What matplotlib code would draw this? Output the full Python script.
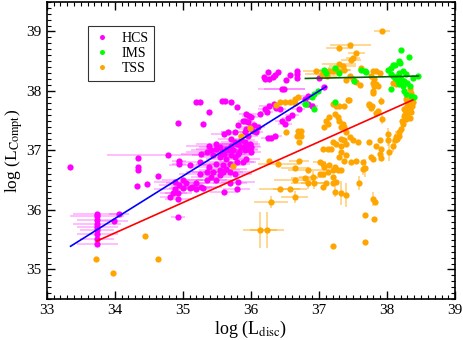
import matplotlib
matplotlib.use('Agg')
import matplotlib.pyplot as plt
import numpy as np

plt.rcParams['font.family'] = ['Liberation Serif', 'DejaVu Serif']
plt.rcParams['mathtext.fontset'] = 'stix'

# HCS: x, y, xerr
hcs = np.array([
    (33.74, 35.93, 0.35), (33.74, 35.90, 0.40), (33.74, 35.83, 0.30), (33.74, 35.77, 0.35),
    (33.74, 35.72, 0.30), (33.74, 35.66, 0.25), (33.74, 35.60, 0.30), (33.74, 35.52, 0.25),
    (33.74, 35.43, 0.30), (34.06, 35.93, 0.15), (33.99, 35.81, 0.20), (34.93, 35.88, 0.10),
    (33.34, 36.73, 0.00),
    (34.78, 36.92, 0.90), (34.34, 36.88, 0.00), (34.34, 36.72, 0.00), (34.34, 36.67, 0.00),
    (34.93, 37.46, 0.00), (34.94, 36.83, 0.10), (34.94, 36.78, 0.10), (34.64, 36.57, 0.00),
    (34.33, 36.41, 0.00), (34.47, 36.43, 0.00), (34.88, 36.36, 0.30), (34.93, 36.28, 0.20),
    (34.81, 36.21, 0.15), (34.93, 36.18, 0.20), (34.86, 36.28, 0.20), (34.88, 36.47, 0.30),
    (34.95, 36.42, 0.30),
    (35.20, 37.81, 0.00), (35.25, 37.81, 0.00), (35.57, 37.83, 0.00), (35.62, 37.83, 0.00),
    (35.70, 37.82, 0.00), (35.79, 37.73, 0.00), (35.38, 37.65, 0.00), (35.30, 37.45, 0.00),
    (36.25, 38.32, 0.00), (36.40, 38.32, 0.00), (36.36, 38.27, 0.00), (36.32, 38.23, 0.00),
    (36.27, 38.20, 0.00), (36.21, 38.20, 0.00), (36.19, 38.23, 0.00), (36.57, 38.27, 0.00),
    (36.52, 38.18, 0.00), (36.67, 38.33, 0.00), (36.68, 38.29, 0.00), (36.68, 38.21, 0.00),
    (36.45, 38.04, 0.35), (36.49, 38.04, 0.30),
    (35.93, 37.61, 0.10), (35.97, 37.58, 0.10), (36.00, 37.57, 0.10), (36.13, 37.61, 0.10),
    (36.20, 37.70, 0.10), (36.27, 37.74, 0.15), (36.34, 37.78, 0.10), (36.37, 37.72, 0.10),
    (36.42, 37.70, 0.10), (36.23, 37.64, 0.10), (35.88, 37.50, 0.00), (35.81, 37.42, 0.00),
    (35.93, 37.36, 0.10), (36.00, 37.39, 0.15), (36.05, 37.42, 0.10), (36.10, 37.39, 0.10),
    (36.03, 37.33, 0.10), (36.08, 37.31, 0.10), (35.91, 37.50, 0.10), (35.96, 37.47, 0.10),
    (35.61, 37.28, 0.20), (35.76, 37.31, 0.20), (35.91, 37.31, 0.15), (35.96, 37.25, 0.15),
    (35.66, 37.31, 0.10), (36.25, 37.21, 0.10), (36.30, 37.21, 0.10), (36.35, 37.24, 0.10),
    (36.55, 37.55, 0.10), (36.60, 37.60, 0.10), (36.70, 37.70, 0.10), (36.79, 37.86, 0.10),
    (36.84, 37.92, 0.10), (36.84, 37.78, 0.10), (36.89, 37.75, 0.10), (37.00, 38.21, 0.05),
    (37.08, 38.06, 0.05), (36.50, 37.45, 0.10), (36.45, 37.50, 0.10),
    (35.71, 37.20, 0.20), (35.76, 37.14, 0.20), (35.81, 37.11, 0.30), (35.86, 37.17, 0.20),
    (35.91, 37.14, 0.20), (35.93, 37.08, 0.20), (35.98, 37.11, 0.15), (36.00, 37.06, 0.15),
    (35.86, 37.06, 0.20), (35.91, 37.00, 0.20), (35.96, 37.03, 0.15), (36.00, 36.97, 0.15),
    (35.42, 37.00, 0.30), (35.49, 37.03, 0.30), (35.57, 36.97, 0.30), (35.61, 36.94, 0.30),
    (35.66, 37.00, 0.25), (35.71, 36.92, 0.30), (35.76, 36.89, 0.20), (35.81, 36.94, 0.20),
    (35.39, 37.08, 0.35), (35.49, 37.11, 0.30), (35.54, 37.06, 0.30), (35.64, 37.03, 0.30),
    (35.71, 37.08, 0.25), (35.79, 37.11, 0.25),
    (35.10, 36.75, 0.30), (35.25, 36.81, 0.35), (35.35, 36.97, 0.30), (35.27, 36.94, 0.30),
    (35.44, 36.92, 0.30), (35.54, 36.89, 0.30), (35.64, 36.86, 0.30), (35.49, 36.78, 0.30),
    (35.39, 36.72, 0.30), (35.59, 36.75, 0.30), (35.69, 36.78, 0.30), (35.79, 36.81, 0.25),
    (35.88, 36.81, 0.20), (35.93, 36.86, 0.20), (35.83, 36.97, 0.20), (35.74, 37.00, 0.25),
    (35.59, 36.97, 0.30),
    (35.00, 36.50, 0.30), (35.05, 36.45, 0.30), (35.13, 36.39, 0.30), (35.20, 36.45, 0.30),
    (35.27, 36.39, 0.30), (35.35, 36.50, 0.30), (35.42, 36.56, 0.30), (35.49, 36.50, 0.30),
    (35.54, 36.58, 0.30), (35.59, 36.64, 0.30), (35.69, 36.64, 0.30), (35.76, 36.61, 0.25),
    (35.81, 36.47, 0.25), (35.79, 36.36, 0.20), (35.69, 36.45, 0.25), (35.25, 36.61, 0.30),
    (35.35, 36.64, 0.30), (35.44, 36.64, 0.30), (35.54, 36.67, 0.30), (35.64, 36.69, 0.30),
    (35.00, 36.37, 0.20), (35.10, 36.37, 0.20), (35.20, 36.35, 0.20), (35.30, 36.37, 0.20),
    (35.60, 36.30, 0.20),
])

# IMS: x, y, xerr
ims = np.array([
    (38.21, 38.68, 0.00), (38.32, 38.57, 0.00), (38.17, 38.50, 0.00), (38.19, 38.47, 0.00),
    (38.08, 38.43, 0.00), (38.11, 38.44, 0.00), (38.06, 38.39, 0.00), (38.01, 38.36, 0.00),
    (37.67, 38.33, 0.05), (37.69, 38.32, 0.00), (37.62, 38.35, 0.05), (38.06, 38.28, 0.00),
    (38.08, 38.25, 0.00), (38.11, 38.22, 0.00), (38.16, 38.25, 0.00), (38.18, 38.31, 0.00),
    (38.23, 38.33, 0.00), (38.28, 38.28, 0.00), (38.20, 38.20, 0.00), (38.25, 38.17, 0.00),
    (38.30, 38.14, 0.00), (38.16, 38.17, 0.00), (38.18, 38.11, 0.00), (38.23, 38.08, 0.00),
    (38.38, 38.22, 0.00), (38.45, 38.25, 0.00), (38.06, 38.03, 0.00), (38.25, 38.00, 0.00),
    (38.28, 37.95, 0.00), (38.35, 37.92, 0.00), (38.40, 37.89, 0.00), (38.33, 38.08, 0.00),
    (37.23, 38.38, 0.10), (37.52, 38.17, 0.00), (37.23, 37.82, 0.00), (36.79, 37.78, 0.00),
    (36.93, 37.70, 0.00), (36.81, 37.78, 0.00), (36.89, 37.89, 0.00), (36.93, 37.95, 0.00),
    (36.98, 38.00, 0.00), (37.08, 38.36, 0.10), (37.10, 38.30, 0.00), (37.30, 38.30, 0.00),
])

# TSS: x, y, xerr, yerr
tss = np.array([
    (37.93, 39.00, 0.12, 0.00), (37.46, 38.78, 0.30, 0.00), (37.30, 38.72, 0.20, 0.00),
    (37.55, 38.64, 0.12, 0.00), (37.50, 38.56, 0.10, 0.00), (37.47, 38.52, 0.15, 0.00),
    (37.30, 38.45, 0.25, 0.00), (37.35, 38.42, 0.20, 0.00), (37.25, 38.36, 0.20, 0.00),
    (37.20, 38.33, 0.20, 0.00), (37.15, 38.33, 0.20, 0.00), (37.28, 38.33, 0.15, 0.00),
    (37.37, 38.36, 0.10, 0.00), (36.96, 38.33, 0.20, 0.00), (37.05, 38.28, 0.25, 0.00),
    (37.12, 38.25, 0.15, 0.00),
    (37.62, 38.39, 0, 0), (37.79, 38.33, 0, 0), (37.84, 38.33, 0, 0), (37.89, 38.31, 0, 0),
    (37.77, 38.25, 0, 0), (37.81, 38.20, 0, 0), (37.79, 38.14, 0, 0), (37.81, 38.08, 0, 0),
    (37.79, 38.00, 0, 0), (38.08, 38.14, 0, 0), (38.13, 38.11, 0, 0), (38.33, 38.03, 0, 0),
    (38.35, 37.97, 0, 0), (37.84, 38.11, 0, 0), (37.86, 38.08, 0, 0), (37.79, 37.97, 0, 0),
    (37.50, 38.20, 0, 0), (37.55, 38.15, 0, 0), (37.45, 38.25, 0, 0), (37.60, 38.10, 0, 0),
    (37.40, 38.18, 0, 0),
    (37.74, 37.78, 0, 0), (37.77, 37.72, 0, 0), (37.91, 37.83, 0, 0.06), (37.44, 37.85, 0, 0),
    (37.20, 37.78, 0, 0), (37.25, 37.75, 0, 0), (37.30, 37.75, 0, 0), (37.37, 37.75, 0, 0),
    (36.50, 37.82, 0, 0), (36.57, 37.81, 0, 0), (36.64, 37.79, 0, 0), (36.37, 37.76, 0, 0),
    (36.42, 37.81, 0, 0), (36.64, 37.86, 0, 0), (36.69, 37.89, 0, 0),
    (35.85, 37.25, 0, 0), (35.98, 37.37, 0, 0), (35.74, 36.74, 0, 0), (36.52, 37.31, 0, 0),
    (36.69, 37.33, 0, 0), (36.74, 37.33, 0, 0), (36.67, 37.25, 0, 0), (36.74, 37.25, 0, 0),
    (36.71, 37.14, 0, 0),
    (36.40, 36.78, 0.30, 0.00), (36.27, 36.83, 0.00, 0.00), (36.64, 36.70, 0.20, 0.00),
    (36.71, 36.83, 0.15, 0.00), (36.84, 36.67, 0.30, 0.05), (36.91, 36.56, 0.20, 0.10),
    (36.84, 36.45, 0.25, 0.10), (36.93, 36.45, 0.20, 0.10), (36.64, 36.50, 0.30, 0.00),
    (36.79, 36.53, 0.20, 0.00), (36.42, 36.36, 0.30, 0.00), (36.57, 36.36, 0.25, 0.00),
    (36.64, 36.22, 0.20, 0.10), (36.30, 36.14, 0.25, 0.10),
    (36.13, 35.66, 0.25, 0.30), (36.23, 35.66, 0.25, 0.30),
    (33.72, 35.18, 0, 0), (33.98, 34.94, 0, 0), (34.44, 35.57, 0, 0), (34.64, 35.18, 0, 0),
    (37.21, 35.40, 0, 0), (37.68, 35.46, 0, 0), (37.68, 35.91, 0, 0), (37.81, 35.85, 0, 0),
    (37.82, 36.13, 0, 0), (37.79, 36.18, 0, 0.12),
    (37.42, 37.85, 0, 0), (37.74, 37.76, 0, 0), (37.78, 37.74, 0, 0), (37.86, 37.67, 0, 0),
    (37.84, 37.63, 0, 0), (37.93, 37.53, 0, 0.08),
    (38.28, 37.86, 0, 0), (38.30, 37.83, 0, 0), (38.33, 37.80, 0, 0), (38.30, 37.75, 0, 0),
    (38.33, 37.70, 0, 0), (38.35, 37.65, 0, 0), (38.30, 37.60, 0, 0), (38.25, 37.58, 0, 0),
    (38.28, 37.53, 0, 0), (38.23, 37.45, 0, 0), (38.20, 37.36, 0, 0), (38.18, 37.31, 0, 0),
    (38.17, 37.25, 0, 0), (38.36, 37.75, 0, 0), (38.32, 37.68, 0, 0), (38.27, 37.62, 0, 0),
    (38.33, 37.55, 0, 0), (38.35, 37.85, 0, 0), (38.38, 37.82, 0, 0), (38.25, 37.70, 0, 0),
    (38.22, 37.50, 0, 0), (38.15, 37.20, 0, 0),
    (37.15, 37.56, 0, 0), (37.23, 37.61, 0, 0), (37.28, 37.56, 0, 0), (37.30, 37.50, 0, 0),
    (37.35, 37.45, 0, 0), (37.33, 37.39, 0, 0), (37.37, 37.39, 0, 0), (37.40, 37.31, 0, 0),
    (37.45, 37.22, 0, 0), (37.50, 37.17, 0, 0), (37.57, 37.14, 0, 0), (37.11, 37.50, 0, 0),
    (37.13, 37.45, 0, 0), (37.08, 37.39, 0, 0),
    (37.74, 37.14, 0, 0), (37.89, 37.17, 0, 0), (37.84, 37.08, 0, 0), (37.91, 37.03, 0, 0),
    (37.89, 36.94, 0, 0), (37.91, 36.87, 0, 0), (38.01, 37.28, 0, 0.10), (38.01, 37.17, 0, 0.10),
    (38.11, 37.17, 0, 0.10), (38.08, 37.08, 0, 0.10), (38.03, 36.98, 0, 0.15), (38.13, 37.22, 0, 0.10),
    (37.33, 37.20, 0, 0), (37.37, 37.17, 0, 0), (37.40, 37.11, 0, 0), (37.33, 37.08, 0, 0),
    (37.25, 37.11, 0, 0), (37.20, 37.14, 0, 0),
    (37.06, 37.03, 0, 0), (37.13, 37.03, 0, 0), (37.18, 37.03, 0, 0),
    (37.33, 36.97, 0, 0), (37.40, 36.92, 0, 0), (37.30, 36.89, 0, 0), (37.37, 36.83, 0, 0),
    (37.47, 36.81, 0, 0), (37.55, 36.83, 0, 0), (37.64, 36.81, 0, 0), (37.67, 36.70, 0, 0.15),
    (37.77, 36.89, 0, 0), (37.79, 36.86, 0, 0),
    (37.01, 36.81, 0.10, 0), (37.06, 36.78, 0, 0), (37.08, 36.72, 0, 0), (37.15, 36.75, 0, 0),
    (37.23, 36.72, 0, 0), (37.28, 36.67, 0, 0), (37.20, 36.67, 0, 0), (37.13, 36.64, 0, 0),
    (37.06, 36.61, 0, 0), (37.01, 36.61, 0, 0), (37.33, 36.67, 0, 0),
    (37.20, 36.56, 0, 0), (37.25, 36.47, 0, 0), (37.20, 36.45, 0, 0), (37.11, 36.45, 0, 0),
    (37.06, 36.39, 0, 0),
    (37.59, 36.45, 0, 0.12), (37.23, 36.31, 0, 0.10), (37.33, 36.28, 0, 0.20), (37.40, 36.25, 0, 0.20),
    (37.64, 36.68, 0, 0.10),
])

# fitted relations (end points)
hcs_fit_x = [33.35, 37.10]
hcs_fit_y = [35.39, 38.07]
tss_fit_x = [33.74, 38.38]
tss_fit_y = [35.48, 37.85]
ims_fit_x = [36.80, 38.46]
ims_fit_y = [38.21, 38.25]

fig = plt.figure(figsize=(4.63, 3.40), dpi=100)
ax = fig.add_axes([0.101, 0.12, 0.882, 0.875])

ms = 4.5
ax.errorbar(hcs[:, 0], hcs[:, 1], xerr=hcs[:, 2], fmt='none', ecolor='#ff00ff', alpha=0.3, elinewidth=1.2, zorder=1)
ax.plot(hcs[:, 0], hcs[:, 1], 'o', color='#ff00ff', ms=ms, mec='none', label='HCS', zorder=2)

ax.errorbar(tss[:, 0], tss[:, 1], xerr=tss[:, 2], yerr=tss[:, 3], fmt='none', ecolor='#ffa500', alpha=0.5, elinewidth=1.2, zorder=1)
ax.errorbar(ims[:, 0], ims[:, 1], xerr=ims[:, 2], fmt='none', ecolor='#00ff00', alpha=0.4, elinewidth=1.2, zorder=1)
ax.plot(ims[:, 0], ims[:, 1], 'o', color='#00ff00', ms=ms, mec='none', label='IMS', zorder=3)
ax.plot(tss[:, 0], tss[:, 1], 'o', color='#ffa500', ms=ms, mec='none', label='TSS', zorder=2.5)

ax.plot(hcs_fit_x, hcs_fit_y, color='blue', lw=1.2, zorder=4)
ax.plot(tss_fit_x, tss_fit_y, color='red', lw=1.2, zorder=4)
ax.plot(ims_fit_x, ims_fit_y, color='#0b5d0b', lw=1.2, zorder=4)

ax.set_xlim(33, 39)
ax.set_ylim(34.5, 39.5)
ax.set_xticks(np.arange(33, 39.01, 1))
ax.set_yticks(np.arange(35, 39.01, 1))
ax.set_xticks(np.arange(33, 39.01, 0.1), minor=True)
ax.set_yticks(np.arange(34.5, 39.51, 0.1), minor=True)
ax.tick_params(which='both', direction='in', top=True, right=True, labelsize=11)
ax.tick_params(which='major', length=6, width=1)
ax.tick_params(which='minor', length=3, width=0.8)
for s in ax.spines.values():
    s.set_linewidth(1.2)

ax.set_xlabel(r'log (L$_{\rm disc}$)', fontsize=13, labelpad=1)
ax.set_ylabel(r'log (L$_{\rm Compt}$)', fontsize=12.5, labelpad=1)

leg = ax.legend(loc='upper left', bbox_to_anchor=(0.085, 0.94), fontsize=10, frameon=True,
                fancybox=False, edgecolor='black', handlelength=1.2, handletextpad=0.8,
                borderpad=0.4, labelspacing=0.15, markerscale=0.8)
leg.get_frame().set_linewidth(0.8)

fig.savefig('out.png', dpi=100)
